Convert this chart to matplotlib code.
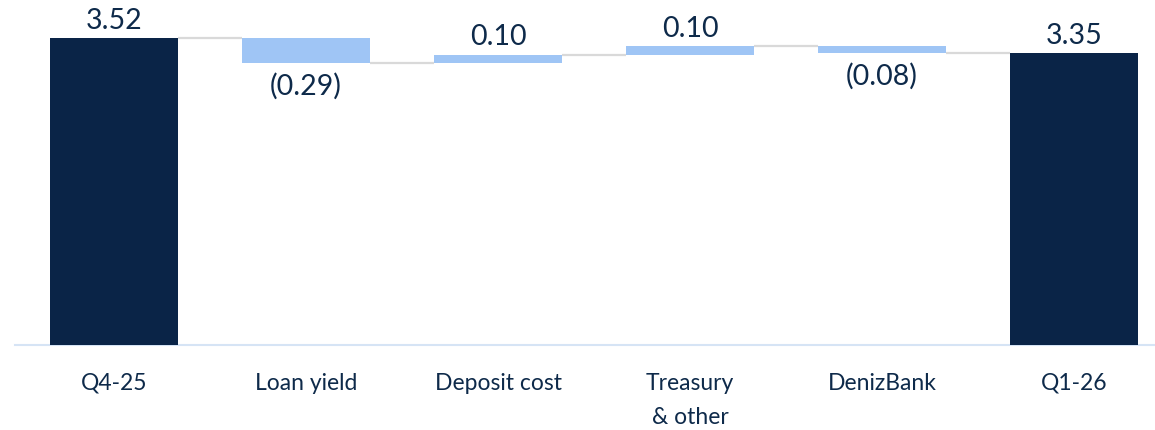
import matplotlib
matplotlib.use("Agg")
import matplotlib.pyplot as plt

categories = ["Q4-25", "Loan yield", "Deposit cost", "Treasury\n& other", "DenizBank", "Q1-26"]
start_value = 3.52
changes = [-0.29, 0.10, 0.10, -0.08]
end_value = 3.35
value_labels = ["3.52", "(0.29)", "0.10", "0.10", "(0.08)", "3.35"]

DARK = "#0A2447"
LIGHT = "#9FC5F5"
TEXT = "#0E2A4A"
CONN = "#D9D9D9"
BASE = "#D6E4F5"

plt.rcParams['font.family'] = ['Lato', 'DejaVu Sans']

fig = plt.figure(figsize=(11.55, 4.30), dpi=100)
ax = fig.add_axes([15/1155, 85/430, 1140/1155, 345/430])

width = 0.667
bottoms, heights, colors = [], [], []
bottoms.append(0); heights.append(start_value); colors.append(DARK)
level = start_value
levels = [start_value]
for c in changes:
    new = level + c
    bottoms.append(min(level, new)); heights.append(abs(c)); colors.append(LIGHT)
    level = new
    levels.append(level)
bottoms.append(0); heights.append(end_value); colors.append(DARK)
levels.append(end_value)

xs = list(range(len(categories)))
ax.bar(xs, heights, bottom=bottoms, width=width, color=colors, zorder=3)

for i in range(len(xs) - 1):
    y = levels[i]
    ax.plot([xs[i] + width/2, xs[i+1] - width/2], [y, y], color=CONN, lw=1.6, zorder=2,
            solid_capstyle='butt')

for i, lab in enumerate(value_labels):
    top = bottoms[i] + heights[i]
    if i in (0, len(xs)-1) or changes[i-1] > 0:
        ax.annotate(lab, (xs[i], top), xytext=(0, 3), textcoords='offset points',
                    ha='center', va='bottom', fontsize=20.5, color=TEXT)
    else:
        ax.annotate(lab, (xs[i], bottoms[i]), xytext=(0, -7), textcoords='offset points',
                    ha='center', va='top', fontsize=20.5, color=TEXT)

ax.set_xlim(-0.516, 5.422)
ax.set_ylim(0, 345/87.2)
for s in ['top', 'right', 'left']:
    ax.spines[s].set_visible(False)
ax.spines['bottom'].set_color(BASE)
ax.spines['bottom'].set_linewidth(1.5)
ax.set_yticks([])
ax.set_xticks(xs)
ax.set_xticklabels(categories, fontsize=16.5, color=TEXT, linespacing=1.8)
ax.tick_params(axis='x', length=0, pad=20)

fig.savefig("out.png", dpi=100)
